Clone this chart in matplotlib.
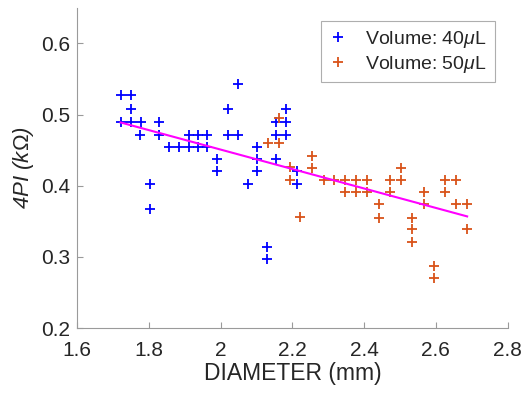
import matplotlib
matplotlib.use("Agg")
import matplotlib.pyplot as plt
import numpy as np

plt.rcParams['font.family'] = ['Liberation Sans', 'DejaVu Sans']
plt.rcParams['mathtext.fontset'] = 'custom'
plt.rcParams['mathtext.it'] = 'Liberation Sans:italic'
plt.rcParams['mathtext.rm'] = 'Liberation Sans'

# volume 40 uL
d40 = [1.721, 1.749, 1.749, 1.721, 1.749, 1.777, 1.829, 1.775, 1.829,
       1.911, 1.937, 1.963, 2.021, 2.047, 2.155, 2.182,
       1.857, 1.885, 1.911, 1.937, 1.963,
       1.991, 1.991, 1.803, 1.803, 2.047, 2.021, 2.182, 2.155, 2.182,
       2.101, 2.101, 2.155, 2.101, 2.212, 2.075, 2.212, 2.129, 2.129]
r40 = [0.527, 0.527, 0.508, 0.490, 0.490, 0.490, 0.490, 0.472, 0.472,
       0.472, 0.472, 0.472, 0.472, 0.472, 0.472, 0.472,
       0.455, 0.455, 0.455, 0.455, 0.455,
       0.438, 0.421, 0.402, 0.367, 0.543, 0.508, 0.508, 0.490, 0.490,
       0.455, 0.438, 0.438, 0.421, 0.421, 0.402, 0.402, 0.314, 0.297]

# volume 50 uL
d50 = [2.162, 2.131, 2.162, 2.254, 2.254, 2.192, 2.192, 2.222,
       2.287, 2.316, 2.347, 2.378, 2.409, 2.347, 2.378, 2.409,
       2.440, 2.440, 2.471, 2.471, 2.503, 2.503,
       2.533, 2.533, 2.533, 2.566, 2.566, 2.596, 2.596,
       2.626, 2.657, 2.626, 2.657, 2.688, 2.688]
r50 = [0.495, 0.460, 0.460, 0.442, 0.425, 0.426, 0.408, 0.356,
       0.408, 0.408, 0.408, 0.408, 0.408, 0.391, 0.391, 0.391,
       0.374, 0.355, 0.408, 0.391, 0.425, 0.408,
       0.355, 0.339, 0.321, 0.391, 0.374, 0.287, 0.270,
       0.408, 0.408, 0.391, 0.374, 0.374, 0.339]

# linear fit line (ends)
fit_x = [1.721, 2.687]
fit_y = [0.489, 0.357]

grey = (0.15, 0.15, 0.15)

fig = plt.figure(figsize=(5.25, 3.93), dpi=100)
ax = fig.add_axes([0.147, 0.165, 0.820, 0.815])

ax.plot(d40, r40, '+', color='blue', markersize=7, markeredgewidth=1.3,
        label=r'Volume: 40$\mu$L')
ax.plot(d50, r50, '+', color=(0.85, 0.325, 0.098), markersize=7,
        markeredgewidth=1.3, label=r'Volume: 50$\mu$L')
ax.plot(fit_x, fit_y, '-', color=(1, 0, 1), linewidth=1.5)

ax.set_xlim(1.6, 2.8)
ax.set_ylim(0.2, 0.65)
ax.set_xticks([1.6, 1.8, 2.0, 2.2, 2.4, 2.6, 2.8])
ax.set_xticklabels(['1.6', '1.8', '2', '2.2', '2.4', '2.6', '2.8'])
ax.set_yticks([0.2, 0.3, 0.4, 0.5, 0.6])
ax.set_yticklabels(['0.2', '0.3', '0.4', '0.5', '0.6'])

for s in ['top', 'right']:
    ax.spines[s].set_visible(False)
for s in ['left', 'bottom']:
    ax.spines[s].set_color('#9a9a9a')
ax.tick_params(direction='in', length=4, color='#9a9a9a', labelsize=15,
               labelcolor=grey)
ax.tick_params(axis='x', pad=9)
ax.tick_params(axis='y', pad=5)

ax.set_xlabel('DIAMETER (mm)', fontsize=16.5, color=grey, labelpad=2)
ax.set_ylabel(r'4PI (k$\Omega$)', fontsize=16, color=grey, style='italic',
              labelpad=4)

leg = ax.legend(loc='upper right', bbox_to_anchor=(0.970, 0.959), fontsize=14,
                frameon=True, fancybox=False, handlelength=1.0,
                borderpad=0.4, labelspacing=0.2, handletextpad=0.9,
                borderaxespad=0.0)
leg.get_frame().set_edgecolor('#9a9a9a')
leg.get_frame().set_linewidth(0.8)
for t in leg.get_texts():
    t.set_color(grey)

fig.savefig('out.png', dpi=100)
